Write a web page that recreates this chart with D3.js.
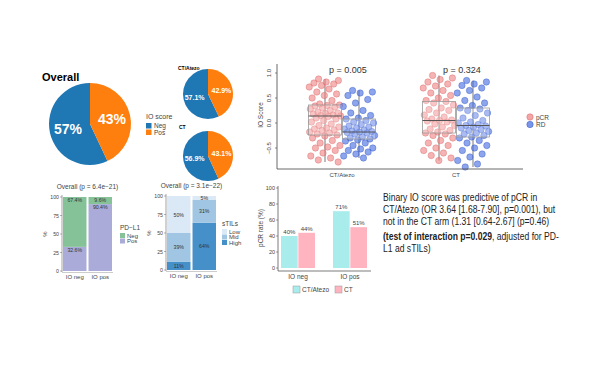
<!DOCTYPE html>
<html>
<head>
<meta charset="utf-8">
<script src="https://cdn.jsdelivr.net/npm/d3@7"></script>
<style>
  body { margin: 0; background: #fff; }
  svg { display: block; font-family: "Liberation Sans", Arial, sans-serif; }
</style>
</head>
<body>
<svg id="fig" width="600" height="365"></svg>
<script>
// ---- data ----
var ioLevels = ["Neg", "Pos"];
var pieOverall = [57, 43];
var pieAtezo = [57.1, 42.9];
var pieCT = [56.9, 43.1];

var ioGroups = ["IO neg", "IO pos"];
var pdl1Levels = ["Neg", "Pos"];
var pdl1Neg = [67.4, 9.6];
var pdl1Pos = [32.6, 90.4];

var tilLevels = ["Low", "Mid", "High"];
var tilLow = [50, 5];
var tilMid = [39, 31];
var tilHigh = [11, 64];

var arms = ["CT/Atezo", "CT"];
var pcrAtezo = [40, 71];
var pcrCT = [44, 51];

var responses = ["pCR", "RD"];
var pValues = ["p = 0.005", "p = 0.324"];
// box stats [low whisker, q1, median, q3, high whisker]
var boxAtezoPCR = [-0.78, -0.24, 0.14, 0.36, 0.88];
var boxAtezoRD = [-0.70, -0.32, -0.18, 0.08, 0.65];
var boxCTPCR = [-0.75, -0.20, 0.05, 0.43, 0.95];
var boxCTRD = [-0.88, -0.28, -0.05, 0.30, 0.85];

var ptsAtezoPCR = [0.88, 0.85, 0.82, 0.80, 0.78, 0.75, 0.72, 0.68, 0.62, 0.58, 0.55, 0.50,
  0.45, 0.38, 0.36, 0.35, 0.34, 0.32, 0.30, 0.28, 0.25, 0.22, 0.20, 0.19, 0.18, 0.16, 0.15,
  0.14, 0.13, 0.10, 0.08, 0.05, 0.02, -0.02, -0.05, -0.08, -0.10, -0.12, -0.14, -0.15, -0.18,
  -0.20, -0.22, -0.24, -0.26, -0.30, -0.35, -0.40, -0.45, -0.48, -0.50, -0.55, -0.60, -0.66,
  -0.70, -0.74, -0.78];
var ptsAtezoRD = [0.65, 0.62, 0.60, 0.55, 0.47, 0.40, 0.33, 0.25, 0.20, 0.15, 0.10, 0.08,
  0.05, 0.02, 0.00, -0.03, -0.06, -0.08, -0.10, -0.12, -0.14, -0.16, -0.17, -0.18, -0.19,
  -0.20, -0.22, -0.25, -0.28, -0.30, -0.32, -0.34, -0.36, -0.40, -0.45, -0.50, -0.52, -0.55,
  -0.58, -0.62, -0.66, -0.70];
var ptsCTPCR = [0.95, 0.90, 0.87, 0.82, 0.78, 0.74, 0.70, 0.65, 0.60, 0.55, 0.50, 0.45,
  0.43, 0.40, 0.36, 0.30, 0.27, 0.25, 0.20, 0.16, 0.12, 0.08, 0.06, 0.05, 0.04, 0.02, -0.02,
  -0.05, -0.08, -0.12, -0.15, -0.18, -0.20, -0.22, -0.25, -0.30, -0.35, -0.40, -0.45, -0.50,
  -0.55, -0.60, -0.65, -0.70, -0.75];
var ptsCTRD = [0.85, 0.82, 0.78, 0.75, 0.70, 0.65, 0.60, 0.52, 0.45, 0.40, 0.35, 0.30, 0.28,
  0.25, 0.20, 0.15, 0.10, 0.05, 0.02, 0.00, -0.03, -0.05, -0.06, -0.08, -0.10, -0.13, -0.15,
  -0.17, -0.20, -0.22, -0.25, -0.28, -0.30, -0.35, -0.40, -0.45, -0.50, -0.55, -0.62, -0.68,
  -0.75, -0.82, -0.88];

var noteLines = [
  [["Binary IO score was predictive of pCR in", false]],
  [["CT/Atezo (OR 3.64 [1.68-7.90], p=0.001), but", false]],
  [["not in the CT arm (1.31 [0.64-2.67] (p=0.46)", false]],
  [["(test of interaction p=0.029", true], [", adjusted for PD-", false]],
  [["L1 ad sTILs)", false]]
];

// ---- drawing ----
var svg = d3.select("#fig");
svg.append("rect").attr("width", 600).attr("height", 365).attr("fill", "#fff");

var blue = "#1f77b4", orange = "#ff7f0e";
var ioColor = d3.scaleOrdinal().domain(ioLevels).range([blue, orange]);

function drawPie(cx, cy, r, values, fmt, fontSize) {
    var g = svg.append("g").attr("transform", "translate(" + [cx, cy] + ")");
    var pie = d3.pie().sort(null).startAngle(0).endAngle(-2 * Math.PI);
    var arcs = pie(values);
    var arc = d3.arc().innerRadius(0).outerRadius(r);
    var labelArc = d3.arc().innerRadius(r * 0.55).outerRadius(r * 0.55);
    g.selectAll("path").data(arcs).enter().append("path")
        .attr("d", arc)
        .attr("fill", function(d, i) { return ioColor(ioLevels[i]); });
    g.selectAll("text").data(arcs).enter().append("text")
        .attr("transform", function(d) { return "translate(" + labelArc.centroid(d) + ")"; })
        .attr("text-anchor", "middle")
        .attr("dy", "0.36em")
        .attr("fill", "#fff")
        .attr("font-weight", "bold")
        .attr("font-size", fontSize)
        .text(function(d) { return d3.format(fmt)(d.data) + "%"; });
}

svg.append("text").attr("x", 42).attr("y", 81)
    .attr("font-size", 11).attr("font-weight", "bold").text("Overall");
drawPie(90, 124, 41, pieOverall, ".0f", 14);

svg.append("text").attr("x", 178).attr("y", 70)
    .attr("font-size", 5).attr("font-weight", "bold").text("CT/Atezo");
drawPie(208, 94, 25, pieAtezo, ".1f", 7);
svg.append("text").attr("x", 179).attr("y", 129)
    .attr("font-size", 5).attr("font-weight", "bold").text("CT");
drawPie(208, 156, 25, pieCT, ".1f", 7);

// IO score legend
var ioLeg = svg.append("g").attr("transform", "translate(146,111)");
ioLeg.append("text").attr("y", 8).attr("font-size", 7).attr("fill", "#444").text("IO score");
ioLevels.forEach(function(l, i) {
    ioLeg.append("rect").attr("x", 0).attr("y", 12 + i * 6.5).attr("width", 5.5).attr("height", 5.5)
        .attr("fill", ioColor(l));
    ioLeg.append("text").attr("x", 8).attr("y", 17 + i * 6.5).attr("font-size", 6.5)
        .attr("fill", "#444").text(l);
});

// ---- box plot ----
var yBox = d3.scaleLinear().domain([0, 1]).range([123, 73]);
var xBox = d3.scalePoint().domain(arms).range([342, 456]);
var xResp = d3.scaleBand().domain(responses).range([-34, 34]);
var respFill = d3.scaleOrdinal().domain(responses).range(["#f08080", "#4169e1"]);
var respStroke = d3.scaleOrdinal().domain(responses).range(["#d86868", "#3557c4"]);

var boxData = [
    {arm: "CT/Atezo", resp: "pCR", s: boxAtezoPCR, pts: ptsAtezoPCR},
    {arm: "CT/Atezo", resp: "RD", s: boxAtezoRD, pts: ptsAtezoRD},
    {arm: "CT", resp: "pCR", s: boxCTPCR, pts: ptsCTPCR},
    {arm: "CT", resp: "RD", s: boxCTRD, pts: ptsCTRD}
];
var boxW = 33;
var boxG = svg.append("g");

boxData.forEach(function(b) {
    var cx = xBox(b.arm) + xResp(b.resp) + xResp.bandwidth() / 2;
    boxG.append("line").attr("x1", cx).attr("x2", cx)
        .attr("y1", yBox(b.s[0])).attr("y2", yBox(b.s[4]))
        .attr("stroke", "#555").attr("stroke-width", 0.8);
});

boxData.forEach(function(b) {
    var cx = xBox(b.arm) + xResp(b.resp) + xResp.bandwidth() / 2;
    boxG.selectAll(null).data(b.pts).enter().append("circle")
        .attr("cx", function(d, i) { return cx + ((i * 0.618034 + 0.3) % 1 - 0.5) * 32; })
        .attr("cy", function(d) { return yBox(d); })
        .attr("r", 3.2)
        .attr("fill", respFill(b.resp))
        .attr("fill-opacity", 0.6)
        .attr("stroke", respStroke(b.resp))
        .attr("stroke-opacity", 0.8)
        .attr("stroke-width", 0.5);
});

boxData.forEach(function(b) {
    var cx = xBox(b.arm) + xResp(b.resp) + xResp.bandwidth() / 2;
    boxG.append("rect").attr("x", cx - boxW / 2).attr("width", boxW)
        .attr("y", yBox(b.s[3])).attr("height", yBox(b.s[1]) - yBox(b.s[3]))
        .attr("fill", "#fff").attr("fill-opacity", 0.25)
        .attr("stroke", "#999").attr("stroke-width", 0.8);
    boxG.append("line").attr("x1", cx - boxW / 2).attr("x2", cx + boxW / 2)
        .attr("y1", yBox(b.s[2])).attr("y2", yBox(b.s[2]))
        .attr("stroke", "#555").attr("stroke-width", 1.1);
});

// axes
svg.append("line").attr("x1", 277).attr("x2", 277).attr("y1", 64).attr("y2", 169)
    .attr("stroke", "#444").attr("stroke-width", 0.8);
svg.append("line").attr("x1", 277).attr("x2", 523).attr("y1", 169).attr("y2", 169)
    .attr("stroke", "#444").attr("stroke-width", 0.8);
[-0.5, 0, 0.5, 1].forEach(function(t) {
    svg.append("line").attr("x1", 275).attr("x2", 277).attr("y1", yBox(t)).attr("y2", yBox(t))
        .attr("stroke", "#444").attr("stroke-width", 0.6);
    svg.append("text")
        .attr("transform", "translate(271," + yBox(t) + ") rotate(-90)")
        .attr("text-anchor", "middle").attr("font-size", 6).attr("fill", "#444")
        .text(d3.format(".1f")(t).replace("-", "\u2212"));
});
arms.forEach(function(a) {
    svg.append("text").attr("x", xBox(a)).attr("y", 177)
        .attr("text-anchor", "middle").attr("font-size", 6).attr("fill", "#444").text(a);
});
svg.append("text").attr("transform", "translate(263,115) rotate(-90)")
    .attr("text-anchor", "middle").attr("font-size", 6.5).attr("fill", "#444").text("IO Score");
arms.forEach(function(a, i) {
    svg.append("text").attr("x", xBox(a) + 6).attr("y", 73)
        .attr("text-anchor", "middle").attr("font-size", 9).attr("fill", "#333").text(pValues[i]);
});
responses.forEach(function(r, i) {
    svg.append("circle").attr("cx", 530).attr("cy", 117 + i * 7.5).attr("r", 3.2)
        .attr("fill", respFill(r)).attr("fill-opacity", 0.7)
        .attr("stroke", respStroke(r)).attr("stroke-width", 0.5);
    svg.append("text").attr("x", 536).attr("y", 119.5 + i * 7.5)
        .attr("font-size", 6.5).attr("fill", "#444").text(r);
});

// ---- stacked bars ----
function stackedBar(o) {
    var g = svg.append("g");
    var x = d3.scaleBand().domain(ioGroups).range(o.xr).paddingInner(0.08);
    var y = d3.scaleLinear().domain([0, 100]).range(o.yr);
    var rows = ioGroups.map(function(grp, i) {
        var r = {group: grp};
        o.keys.forEach(function(k) { r[k] = o.values[k][i]; });
        return r;
    });
    var series = d3.stack().keys(o.keys)(rows);
    series.forEach(function(s, si) {
        g.selectAll(null).data(s).enter().append("rect")
            .attr("x", function(d) { return x(d.data.group); })
            .attr("width", x.bandwidth())
            .attr("y", function(d) { return y(d[1]); })
            .attr("height", function(d) { return y(d[0]) - y(d[1]); })
            .attr("fill", o.colors[s.key]);
        g.selectAll(null).data(s).enter().append("text")
            .attr("x", function(d) { return x(d.data.group) + x.bandwidth() / 2; })
            .attr("y", function(d) {
                return o.labelTop ? y(d[1]) + 5 : (y(d[0]) + y(d[1])) / 2 + 2;
            })
            .attr("text-anchor", "middle").attr("font-size", 5.2).attr("fill", "#333")
            .text(function(d) { return d3.format(o.fmt)(d[1] - d[0]) + "%"; });
    });
    var left = o.xr[0] - 1;
    g.append("line").attr("x1", left).attr("x2", left).attr("y1", o.yr[1] - 2).attr("y2", o.yr[0] + 1)
        .attr("stroke", "#666").attr("stroke-width", 0.6);
    g.append("line").attr("x1", left).attr("x2", o.xr[1] + 1).attr("y1", o.yr[0] + 1.5).attr("y2", o.yr[0] + 1.5)
        .attr("stroke", "#aaa").attr("stroke-width", 0.6);
    [0, 25, 50, 75, 100].forEach(function(t) {
        g.append("line").attr("x1", left - 2).attr("x2", left).attr("y1", y(t)).attr("y2", y(t))
            .attr("stroke", "#666").attr("stroke-width", 0.5);
        g.append("text").attr("x", left - 3).attr("y", y(t) + 2)
            .attr("text-anchor", "end").attr("font-size", 5.2).attr("fill", "#444").text(t);
    });
    ioGroups.forEach(function(grp) {
        g.append("text").attr("x", x(grp) + x.bandwidth() / 2).attr("y", o.yr[0] + 8)
            .attr("text-anchor", "middle").attr("font-size", 6).attr("fill", "#444").text(grp);
    });
    g.append("text").attr("x", (o.xr[0] + o.xr[1]) / 2).attr("y", o.yr[1] - 8)
        .attr("text-anchor", "middle").attr("font-size", 6.5).attr("fill", "#444").text(o.title);
    g.append("text").attr("transform", "translate(" + (o.xr[0] - 18) + "," + y(50) + ") rotate(-90)")
        .attr("text-anchor", "middle").attr("dy", "0.35em").attr("font-size", 6).attr("fill", "#444").text("%");
    var leg = g.append("g").attr("transform", "translate(" + o.leg + ")");
    leg.append("text").attr("y", 0).attr("font-size", 6.5).attr("fill", "#444").text(o.legTitle);
    o.legKeys.forEach(function(k, i) {
        leg.append("rect").attr("x", 0).attr("y", 3 + i * 5.5).attr("width", 5).attr("height", 5)
            .attr("fill", o.colors[k]);
        leg.append("text").attr("x", 7).attr("y", 7.5 + i * 5.5).attr("font-size", 6)
            .attr("fill", "#444").text(o.legLabels[i]);
    });
}

stackedBar({
    xr: [63, 112], yr: [271, 197],
    keys: ["Pos", "Neg"],
    values: {Neg: pdl1Neg, Pos: pdl1Pos},
    colors: {Neg: "#86c297", Pos: "#aaabd8"},
    labelTop: true, fmt: ".1f",
    title: "Overall (p = 6.4e\u221221)",
    leg: [120, 230], legTitle: "PD\u2212L1",
    legKeys: ["Neg", "Pos"], legLabels: pdl1Levels
});

stackedBar({
    xr: [167, 216], yr: [270, 196],
    keys: ["High", "Mid", "Low"],
    values: {Low: tilLow, Mid: tilMid, High: tilHigh},
    colors: {Low: "#dbe8f5", Mid: "#a0c6e3", High: "#4690c9"},
    labelTop: false, fmt: ".0f",
    title: "Overall (p = 3.1e\u221222)",
    leg: [222, 226], legTitle: "sTILs",
    legKeys: ["Low", "Mid", "High"], legLabels: tilLevels
});

// ---- pCR rate bars ----
var armColor = d3.scaleOrdinal().domain(arms).range(["#a8ecec", "#ffb4c0"]);
var xPcr = d3.scaleBand().domain(ioGroups).range([281, 367]).paddingInner(0.346);
var xArm = d3.scaleBand().domain(arms).range([0, xPcr.bandwidth()]).paddingInner(0.04);
var yPcr = d3.scaleLinear().domain([0, 100]).range([268, 188]);
var pcrRows = ioGroups.map(function(grp, i) {
    return arms.map(function(a) { return {group: grp, arm: a, v: a === "CT" ? pcrCT[i] : pcrAtezo[i]}; });
});
var pcrG = svg.append("g");
pcrRows.forEach(function(row) {
    pcrG.selectAll(null).data(row).enter().append("rect")
        .attr("x", function(d) { return xPcr(d.group) + xArm(d.arm); })
        .attr("width", xArm.bandwidth())
        .attr("y", function(d) { return yPcr(d.v); })
        .attr("height", function(d) { return yPcr(0) - yPcr(d.v); })
        .attr("fill", function(d) { return armColor(d.arm); });
    pcrG.selectAll(null).data(row).enter().append("text")
        .attr("x", function(d) { return xPcr(d.group) + xArm(d.arm) + xArm.bandwidth() / 2; })
        .attr("y", function(d) { return yPcr(d.v) - 2; })
        .attr("text-anchor", "middle").attr("font-size", 6).attr("fill", "#444")
        .text(function(d) { return d.v + "%"; });
});
pcrG.append("line").attr("x1", 278).attr("x2", 278).attr("y1", 186).attr("y2", 271)
    .attr("stroke", "#444").attr("stroke-width", 0.7);
pcrG.append("line").attr("x1", 278).attr("x2", 371).attr("y1", 271).attr("y2", 271)
    .attr("stroke", "#444").attr("stroke-width", 0.7);
[0, 20, 40, 60, 80, 100].forEach(function(t) {
    pcrG.append("line").attr("x1", 276).attr("x2", 278).attr("y1", yPcr(t)).attr("y2", yPcr(t))
        .attr("stroke", "#444").attr("stroke-width", 0.5);
    pcrG.append("text").attr("x", 275).attr("y", yPcr(t) + 2)
        .attr("text-anchor", "end").attr("font-size", 5.5).attr("fill", "#444").text(t);
});
ioGroups.forEach(function(grp) {
    pcrG.append("text").attr("x", xPcr(grp) + xPcr.bandwidth() / 2).attr("y", 279)
        .attr("text-anchor", "middle").attr("font-size", 6.5).attr("fill", "#444").text(grp);
});
pcrG.append("text").attr("transform", "translate(263,228) rotate(-90)")
    .attr("text-anchor", "middle").attr("font-size", 6.5).attr("fill", "#444").text("pCR rate (%)");
var pcrLeg = [[293, 302], [335, 344]];
arms.forEach(function(a, i) {
    pcrG.append("rect").attr("x", pcrLeg[i][0]).attr("y", 286).attr("width", 7).attr("height", 7)
        .attr("fill", armColor(a)).attr("stroke", "#999").attr("stroke-width", 0.5);
    pcrG.append("text").attr("x", pcrLeg[i][1]).attr("y", 292)
        .attr("font-size", 6.5).attr("fill", "#444").text(a);
});

// ---- note text (condensed by horizontal scaling) ----
var note = svg.append("g").attr("transform", "translate(383,0) scale(0.86,1)")
    .append("text")
    .attr("font-family", "'Liberation Sans', Arial, sans-serif")
    .attr("font-size", 10).attr("fill", "#222");
noteLines.forEach(function(line, i) {
    var t = note.append("tspan").attr("x", 0).attr("y", 201 + i * 12.2 + (i >= 3 ? 2 : 0));
    line.forEach(function(part, j) {
        var s = j === 0 ? t : note.append("tspan");
        s.attr("font-weight", part[1] ? "bold" : null).text(part[0]);
    });
});
</script>
</body>
</html>
